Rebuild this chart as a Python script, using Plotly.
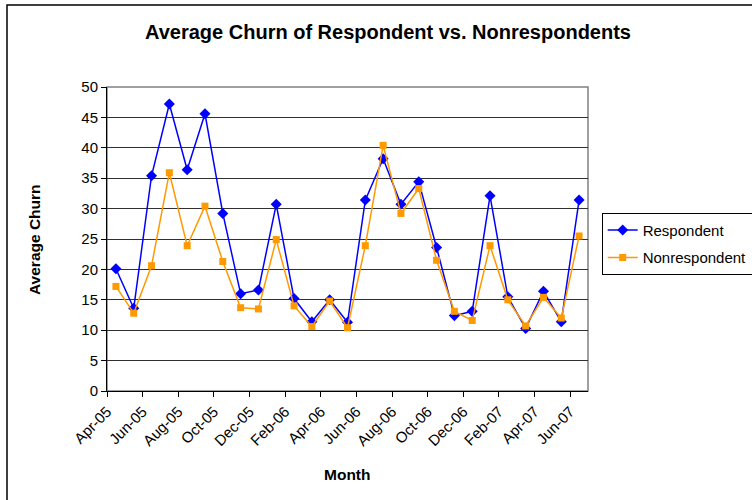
import plotly.graph_objects as go

months = ["Apr-05", "May-05", "Jun-05", "Jul-05", "Aug-05", "Sep-05", "Oct-05", "Nov-05", "Dec-05",
          "Jan-06", "Feb-06", "Mar-06", "Apr-06", "May-06", "Jun-06", "Jul-06", "Aug-06", "Sep-06",
          "Oct-06", "Nov-06", "Dec-06", "Jan-07", "Feb-07", "Mar-07", "Apr-07", "May-07", "Jun-07"]
respondent = [20.1, 13.6, 35.4, 47.2, 36.4, 45.6, 29.2, 16.0, 16.6,
              30.7, 15.2, 11.4, 15.0, 11.3, 31.4, 38.2, 30.7, 34.4,
              23.6, 12.4, 13.1, 32.1, 15.5, 10.3, 16.4, 11.4, 31.4]
nonrespondent = [17.2, 12.8, 20.6, 35.9, 23.9, 30.4, 21.3, 13.7, 13.5,
                 24.9, 14.0, 10.6, 14.8, 10.4, 23.9, 40.4, 29.2, 33.3,
                 21.5, 13.1, 11.6, 23.9, 15.0, 10.7, 15.4, 12.0, 25.5]
tick_labels = months[::2]

FONT = "Liberation Sans, Arial, sans-serif"
idx = list(range(len(months)))

# plot-area geometry in screen pixels (body margin removed via post_script)
PX0, PX1, PY0, PY1 = 107, 588, 87, 391
W, H = PX1 - PX0, PY1 - PY0
L, T = PX0, PY0
R, B = 752 - L - W, 500 - T - H


def px(sx):
    return (sx - PX0) / W


def py(sy):
    return (PY1 - sy) / H


fig = go.Figure()
fig.add_trace(go.Scatter(
    x=idx, y=respondent, name="Respondent", mode="lines+markers",
    line=dict(color="#0000FF", width=1.5),
    marker=dict(symbol="diamond", size=8.5, color="#0000FF"),
    legendgroup="a"))
fig.add_trace(go.Scatter(
    x=idx, y=nonrespondent, name="Nonrespondent", mode="lines+markers",
    line=dict(color="#FF9900", width=1.5),
    marker=dict(symbol="square", size=7, color="#FF9900"),
    legendgroup="b"))

# tick labels placed at the tick marks between category pairs (Excel style)
tickpos = [i - 0.5 for i in idx[::2]]

fig.update_layout(
    width=752, height=500,
    margin=dict(l=L, r=R, t=T, b=B, autoexpand=False),
    paper_bgcolor="white", plot_bgcolor="white",
    font=dict(family=FONT, size=15, color="#000000"),
    title=dict(text="<b>Average Churn of Respondent vs. Nonrespondents</b>",
               x=388 / 752, xanchor="center", y=1 - 32 / 500, yanchor="middle",
               font=dict(size=20, family=FONT, color="#000000")),
    xaxis=dict(range=[-0.5, 26.5], tickmode="array", tickvals=tickpos, ticktext=tick_labels,
               tickangle=-45, ticks="outside", ticklen=5, tickcolor="#000000",
               showline=True, linecolor="#000000", linewidth=1, showgrid=False,
               zeroline=False, tickfont=dict(size=15), automargin=False),
    yaxis=dict(range=[0, 50], tickmode="linear", dtick=5, tick0=0,
               ticks="outside", ticklen=5, tickcolor="#000000",
               showline=True, linecolor="#000000", linewidth=1,
               showgrid=True, gridcolor="#303030", gridwidth=1, zeroline=False,
               tickfont=dict(size=15), automargin=False),
    legend=dict(x=px(601.7), y=py(212.7), xanchor="left", yanchor="top",
                bordercolor="#000000", borderwidth=1, bgcolor="white",
                font=dict(size=15, family=FONT), tracegroupgap=5,
                itemwidth=30),
    showlegend=True,
)

# plot area border (gray) and outer chart border
fig.add_shape(type="rect", xref="paper", yref="paper", x0=0, y0=0, x1=1, y1=1,
              line=dict(color="#808080", width=1.5), layer="below")
fig.add_shape(type="rect", xref="paper", yref="paper",
              x0=px(7), y0=py(515), x1=px(775), y1=py(5),
              line=dict(color="#000000", width=1.5))

fig.add_annotation(text="<b>Average Churn</b>", xref="paper", yref="paper",
                   x=px(34), y=py(240), textangle=-90, showarrow=False,
                   xanchor="center", yanchor="middle",
                   font=dict(size=15.5, family=FONT, color="#000000"))
fig.add_annotation(text="<b>Month</b>", xref="paper", yref="paper",
                   x=px(347), y=py(474), showarrow=False,
                   xanchor="center", yanchor="middle",
                   font=dict(size=15.5, family=FONT, color="#000000"))

fig.write_html("out.html", config={"displayModeBar": False},
               post_script="document.body.style.margin='0';")
